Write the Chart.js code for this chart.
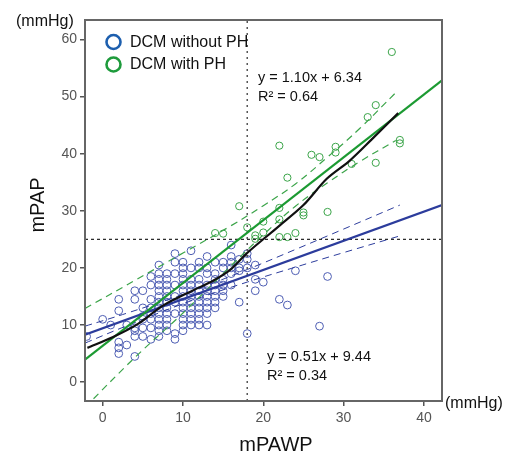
<!DOCTYPE html>
<html>
<head>
<meta charset="utf-8">
<script src="https://cdn.jsdelivr.net/npm/chart.js@4.4.1/dist/chart.umd.min.js"></script>
<style>
  html, body { margin: 0; padding: 0; background: #fff; }
  #wrap { width: 509px; height: 454px; }
</style>
</head>
<body>
<div id="wrap"><canvas id="chart" width="509" height="454"></canvas></div>
<script>
const FONT = '"Liberation Sans", Arial, sans-serif';

// axis ranges and ticks
const xRange = [-2.2, 42.25];
const yRange = [-3.3, 63.4];
const xTicks = [0, 10, 20, 30, 40];
const yTicks = [0, 10, 20, 30, 40, 50, 60];

// cut-offs (dotted lines)
const cutX = 18;
const cutY = 25;

// DCM without PH: mPAWP column -> mPAP values
const blueCols = [
  [-2, [8]],
  [0, [11]],
  [1, [10]],
  [2, [14.5, 12.5, 7, 6, 5]],
  [3, [6.5, 10]],
  [4, [16, 14.5, 9.5, 9, 8, 4.5]],
  [5, [16, 13, 11.5, 11, 9.5, 8]],
  [6, [18.5, 17, 14.5, 13, 12, 11, 9.5, 7.5]],
  [7, [20.5, 19, 18, 17, 16, 15, 14, 13, 12, 11, 10, 9, 8]],
  [8, [19, 18, 17, 16, 15, 14, 13, 12, 11, 10, 9]],
  [9, [22.5, 21, 19, 17, 15, 14, 12, 8.5, 7.5]],
  [10, [21, 20, 19, 18, 17, 16, 15, 14, 13, 12, 11, 10, 9]],
  [11, [23, 20, 18, 17, 16, 15, 14, 13, 12, 11, 10]],
  [12, [21, 20, 18, 17, 16, 15, 14, 13, 12, 11, 10]],
  [13, [22, 20, 19, 17, 16, 15, 14, 13, 12, 10]],
  [14, [21, 19, 18, 17, 16, 15, 14, 13]],
  [15, [21, 20, 18, 17, 16, 15]],
  [16, [24, 22, 21, 20, 19, 17]],
  [17, [21.5, 20, 19.5, 14]],
  [18, [22.5, 21.5, 20, 8.5]],
  [19, [20.5, 18, 16]],
  [20, [17.5]],
  [22, [14.5]],
  [23, [13.5]],
  [24, [19.5]],
  [27, [9.8]],
  [28, [18.5]]
];

// DCM with PH
const greenX = [14, 15, 17, 18, 19, 19, 20, 20, 22, 22, 22, 22, 23, 23, 24, 25, 25, 26, 27, 28, 29, 29, 31, 33, 34, 34, 36, 37, 37];
const greenY = [26.1, 26, 30.8, 27.1, 25.7, 25.1, 26.2, 28.1, 25.4, 28.5, 30.5, 41.4, 25.4, 35.8, 26.1, 29.7, 29.2, 39.8, 39.4, 29.8, 41.2, 40.2, 38.2, 46.4, 48.5, 38.4, 57.8, 42.4, 41.8];

// regression lines (end points at the frame edges)
const blueFitX = [-2.2, 42.25];
const blueFitY = [8.32, 30.99];
const greenFitX = [-2.2, 42.25];
const greenFitY = [3.92, 52.82];

// confidence bands
const blueBandX = [-2.2, 3, 10.5, 18, 24, 30, 37];
const blueUpper = [9.8, 12.07, 15.62, 19.72, 23.23, 26.8, 31.0];
const blueLower = [6.84, 9.87, 13.98, 17.52, 20.13, 22.68, 25.6];
const greenBandX = [-2.2, 4, 10, 16, 20, 24, 28, 32, 36.5];
const greenUpper = [12.9, 17.8, 22.6, 27.4, 30.9, 34.7, 39.4, 44.4, 50.7];
const greenLower = [-4.4, 4.3, 12.1, 20.4, 25.8, 30.8, 34.9, 38.6, 42.3];

// loess curve
const loessX = [-1.9, 1.3, 4.4, 7.5, 11.3, 13.8, 15.9, 17.9, 20.4, 22.1, 25, 27.9, 30.7, 33.5, 36.8];
const loessY = [6, 7.9, 10.2, 13.4, 16.1, 17.8, 19.7, 22.5, 25.5, 27.5, 31, 35.6, 38.7, 42.5, 47.1];

const BLUE_PT = '#4d5db3';
const BLUE_LN = '#2c3c9c';
const GREEN_PT = '#3ba449';
const GREEN_LN = '#1c9a32';

const zip = (xs, ys) => xs.map((x, i) => ({ x: x, y: ys[i] }));
const bluePoints = [];
blueCols.forEach(([x, ys]) => ys.forEach(y => bluePoints.push({ x: x, y: y })));

function lineSet(data, color, width, dash, order, tension) {
  return {
    type: 'scatter', data: data, showLine: true, borderColor: color, borderWidth: width,
    borderDash: dash || [], pointRadius: 0, fill: false, order: order, tension: tension || 0
  };
}

const framePlugin = {
  id: 'frame',
  afterDraw(chart) {
    const { ctx, chartArea: a } = chart;
    ctx.save();
    ctx.strokeStyle = '#666';
    ctx.lineWidth = 2;
    ctx.strokeRect(a.left, a.top, a.right - a.left, a.bottom - a.top);

    ctx.fillStyle = '#111';
    ctx.textBaseline = 'middle';
    ctx.textAlign = 'left';
    ctx.font = '16px ' + FONT;
    ctx.fillText('(mmHg)', 16, 22);
    ctx.fillText('(mmHg)', 445, 404);

    // legend
    ctx.lineWidth = 2.6;
    ctx.strokeStyle = '#1d5fae';
    ctx.beginPath(); ctx.arc(113.5, 42, 7, 0, Math.PI * 2); ctx.stroke();
    ctx.strokeStyle = '#1e9b3c';
    ctx.beginPath(); ctx.arc(113.5, 64.5, 7, 0, Math.PI * 2); ctx.stroke();
    ctx.fillText('DCM without PH', 130, 43);
    ctx.fillText('DCM with PH', 130, 65);

    // equations
    ctx.font = '14.5px ' + FONT;
    ctx.fillText('y = 1.10x + 6.34', 258, 78);
    ctx.fillText('R\u00b2 = 0.64', 258, 97);
    ctx.fillText('y = 0.51x + 9.44', 267, 357);
    ctx.fillText('R\u00b2 = 0.34', 267, 376);

    // axis titles
    ctx.font = '20px ' + FONT;
    ctx.textAlign = 'center';
    ctx.fillText('mPAWP', 276, 445);
    ctx.translate(38, 205);
    ctx.rotate(-Math.PI / 2);
    ctx.fillText('mPAP', 0, 0);
    ctx.restore();
  }
};

const ctx = document.getElementById('chart').getContext('2d');
const chart = new Chart(ctx, {
  type: 'scatter',
  data: {
    datasets: [
      lineSet([{ x: cutX, y: yRange[0] }, { x: cutX, y: yRange[1] }], '#555', 1.5, [2, 4], 1),
      lineSet([{ x: xRange[0], y: cutY }, { x: xRange[1], y: cutY }], '#222', 1.2, [3, 3], 1),
      lineSet(zip(loessX, loessY), '#111', 2.2, null, 0, 0.3),
      lineSet(zip(greenFitX, greenFitY), GREEN_LN, 2.2, null, 0),
      lineSet(zip(blueFitX, blueFitY), BLUE_LN, 2.2, null, 0),
      lineSet(zip(greenBandX, greenUpper), GREEN_PT, 1.2, [7, 5], 1, 0.4),
      lineSet(zip(greenBandX, greenLower), GREEN_PT, 1.2, [7, 5], 1, 0.4),
      lineSet(zip(blueBandX, blueUpper), BLUE_LN, 1, [7, 5], 1, 0.4),
      lineSet(zip(blueBandX, blueLower), BLUE_LN, 1, [7, 5], 1, 0.4),
      {
        label: 'DCM with PH', data: zip(greenX, greenY), pointRadius: 3.6, pointBorderWidth: 1,
        borderColor: GREEN_PT, backgroundColor: 'rgba(0,0,0,0)', order: 3
      },
      {
        label: 'DCM without PH', data: bluePoints, pointRadius: 3.9, pointBorderWidth: 1,
        borderColor: BLUE_PT, backgroundColor: 'rgba(0,0,0,0)', order: 4
      }
    ]
  },
  options: {
    responsive: false,
    animation: false,
    layout: { padding: { top: 20, right: 67, left: 0, bottom: 0 } },
    plugins: { legend: { display: false }, tooltip: { enabled: false } },
    scales: {
      x: {
        type: 'linear', min: xRange[0], max: xRange[1],
        afterFit: s => { s.height = 53; },
        afterBuildTicks: s => { s.ticks = xTicks.map(v => ({ value: v })); },
        grid: { drawOnChartArea: false, drawTicks: true, tickLength: 5, color: '#555', lineWidth: 1.5 },
        border: { display: false },
        ticks: { color: '#555', font: { family: FONT, size: 14 }, padding: 4 }
      },
      y: {
        type: 'linear', min: yRange[0], max: yRange[1],
        afterFit: s => { s.width = 85; },
        afterBuildTicks: s => { s.ticks = yTicks.map(v => ({ value: v })); },
        grid: { drawOnChartArea: false, drawTicks: true, tickLength: 5, color: '#555', lineWidth: 1.5 },
        border: { display: false },
        ticks: { color: '#555', font: { family: FONT, size: 14 }, padding: 3 }
      }
    }
  },
  plugins: [framePlugin]
});
</script>
</body>
</html>
